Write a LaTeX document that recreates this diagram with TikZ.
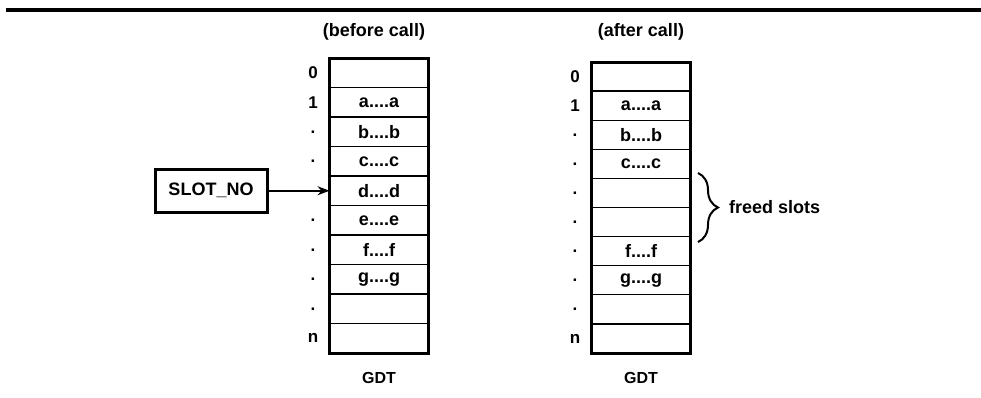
\documentclass[tikz,border=0pt]{standalone}
\usepackage{fontspec}
\setmainfont{Liberation Sans}
\usetikzlibrary{decorations.pathreplacing,arrows.meta}
\newcommand\qdots{....}
\begin{document}
\begin{tikzpicture}[x=1pt,y=-1pt,
  every node/.style={font=\bfseries\fontsize{18}{20}\selectfont,inner sep=0pt,outer sep=0pt},
  cell/.style={draw,line width=1.3pt,minimum width=99pt,minimum height=#1},
  idx/.style={font=\bfseries\fontsize{17}{19}\selectfont},
  frameline/.style={line width=3pt},
  gdtlabel/.style={font=\bfseries\fontsize{16}{18}\selectfont},
  ptr/.style={line width=1.5pt,-{Stealth[length=12pt,width=9pt]}}
]
\useasboundingbox (0,0) rectangle (981,397);
\coordinate (rl) at (6,10);
\coordinate (rr) at (981,10);
\draw[line width=3.5pt] (rl) -- (rr);

\node (t1) at (374,32) {(before call)};
\node (t2) at (641,32) {(after call)};

% left table
\foreach \i/\t in {0/,1/a\qdots a,2/b\qdots b,3/c\qdots c,4/d\qdots d,5/e\qdots e,6/f\qdots f,7/g\qdots g,8/,9/}
  \node[cell=29.5pt] (L\i) at (379,{58+29.5*\i+14.75}) {\t};
\draw[frameline] (L0.north west) rectangle (L9.south east);
\foreach \i/\l in {0/0,1/1,2/.,3/.,5/.,6/.,7/.,8/.,9/n}
  \node[idx] (li\i) at (313,{58+29.5*\i+14.75}) {\l};

% right table
\foreach \i/\t in {0/,1/a\qdots a,2/b\qdots b,3/c\qdots c,4/,5/,6/f\qdots f,7/g\qdots g,8/,9/}
  \node[cell=29.1pt] (R\i) at (641,{62+29.1*\i+14.55}) {\t};
\draw[frameline] (R0.north west) rectangle (R9.south east);
\foreach \i/\l in {0/0,1/1,2/.,3/.,4/.,5/.,6/.,7/.,8/.,9/n}
  \node[idx] (ri\i) at (575,{62+29.1*\i+14.55}) {\l};

\node[gdtlabel] (g1) at (379,378) {GDT};
\node[gdtlabel] (g2) at (641,378) {GDT};

\node[draw,line width=3pt,minimum width=112pt,minimum height=43pt] (slot) at (211,190.75) {SLOT\_NO};
\draw[ptr] (slot.east) -- (L4.west);

\coordinate (b1) at (698,173);
\coordinate (b2) at (698,242);
\draw[line width=2pt,decorate,decoration={brace,amplitude=20pt}] (b1) -- (b2);
\node[anchor=west] (fs) at (729,207.5) {freed slots};
\end{tikzpicture}
\end{document}
